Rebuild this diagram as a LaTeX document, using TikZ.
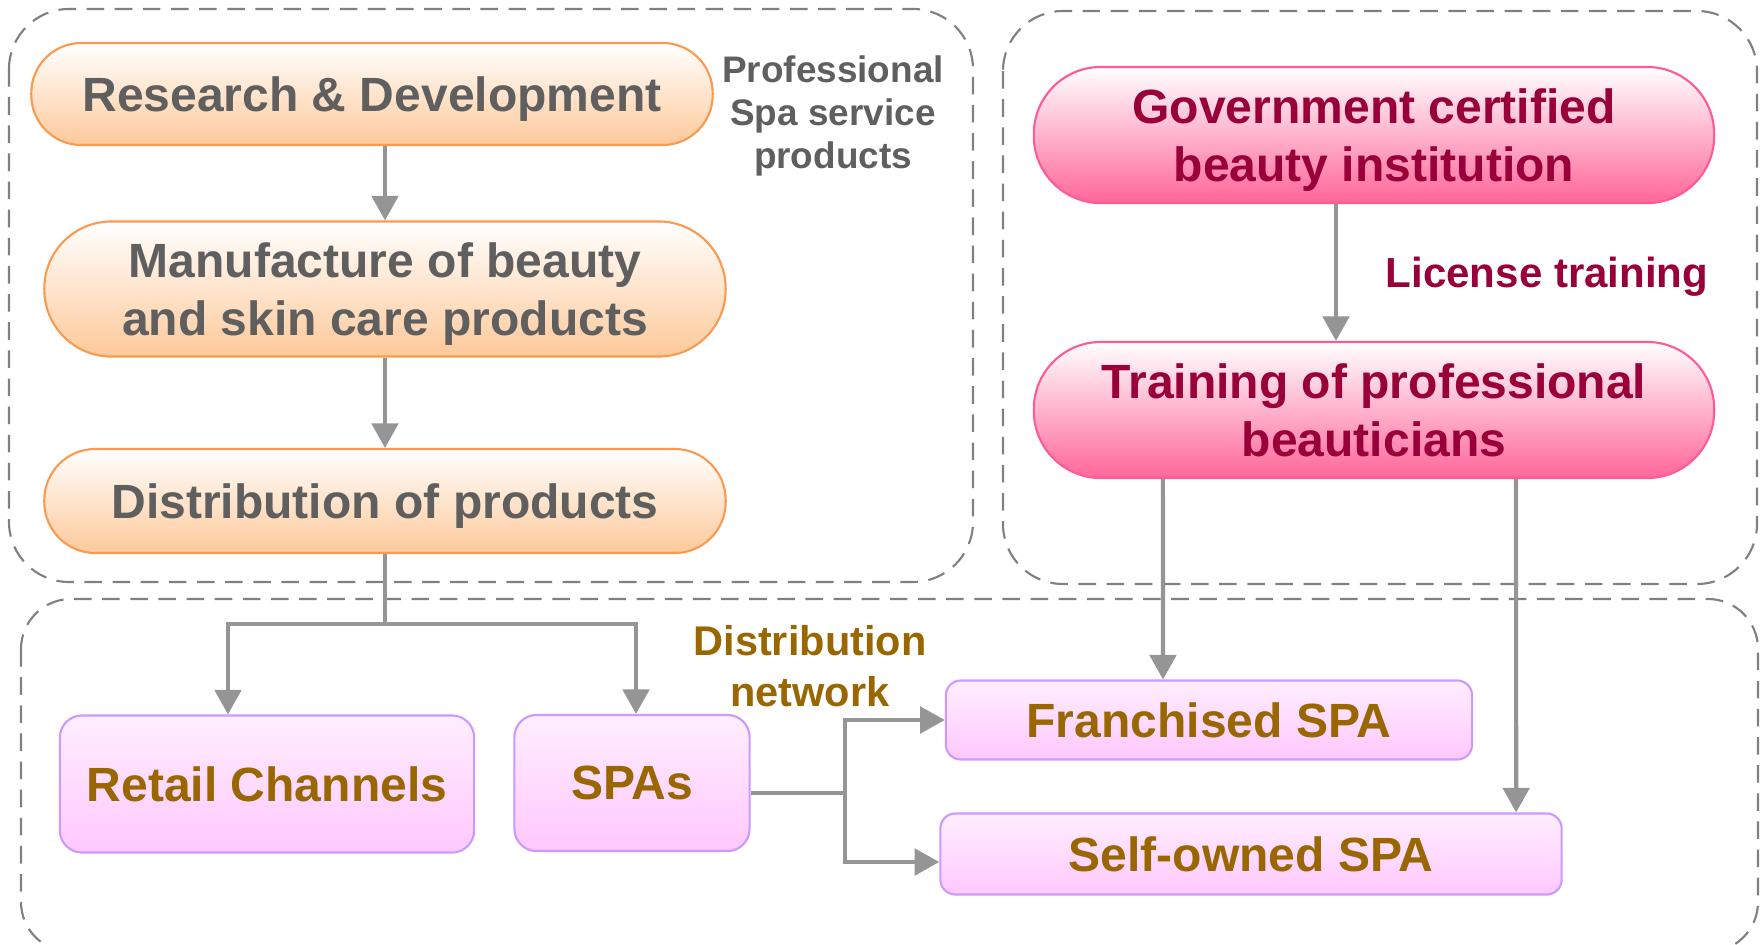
\documentclass[tikz,border=0pt]{standalone}
\usepackage{fontspec}
\setmainfont{Liberation Sans}
\usetikzlibrary{arrows.meta}
\definecolor{zonegray}{HTML}{808080}
\definecolor{linkgray}{HTML}{959595}
\definecolor{prodline}{HTML}{FA9A50}
\definecolor{prodfill}{HTML}{FDC99A}
\definecolor{prodtext}{HTML}{5F5F5F}
\definecolor{eduline}{HTML}{FF5C8D}
\definecolor{edufill}{HTML}{FF6699}
\definecolor{edutext}{HTML}{990039}
\definecolor{shopline}{HTML}{CC99FF}
\definecolor{shoptop}{HTML}{FFEEFF}
\definecolor{shopfill}{HTML}{FFC8FF}
\definecolor{shoptext}{HTML}{996600}
\tikzset{
  zone/.style={draw=zonegray, line width=0.6pt, dash pattern=on 5pt off 3pt, rounded corners=#1},
  base/.style={line width=0.6pt, inner sep=0pt, align=center, text depth=0pt, font=\fontsize{13.66pt}{16.4pt}\selectfont\bfseries},
  prod/.style={base, rounded corners=#1, draw=prodline, top color=white, bottom color=prodfill, text=prodtext},
  edu/.style={base, rounded corners=#1, draw=eduline, top color=white, bottom color=edufill, text=edutext},
  shop/.style={base, rounded corners=#1, draw=shopline, top color=shoptop, bottom color=shopfill, text=shoptext},
  shop/.default=0.22cm,
  link/.style={draw=linkgray, line width=1.2pt},
  arr/.style={link, -{Triangle[width=7.5pt,length=7pt]}},
}
\begin{document}
\begin{tikzpicture}[x=0.01cm,y=-0.01cm]
\useasboundingbox (0,0) rectangle (1762,945);
% dashed groups
\draw[zone=0.6cm] (9,9) rectangle (973,582);
\draw[zone=0.6cm] (1003,11) rectangle (1757,584);
\draw[zone=0.5cm] (21,599) rectangle (1758,952);
% products
\node[prod=0.5cm, minimum width=6.81cm, minimum height=1.02cm] (rd) at (372,94) {Research \& Development};
\node[prod=0.67cm, minimum width=6.81cm, minimum height=1.35cm] (manuf) at (385,289) {Manufacture of beauty\\and skin care products};
\node[prod=0.51cm, minimum width=6.81cm, minimum height=1.04cm] (dist) at (385,501) {Distribution of products};
\node[align=center, text=prodtext, font=\fontsize{10.5pt}{12.1pt}\selectfont\bfseries] (spa) at (833,116) {Professional\\Spa service\\products};
% training
\node[edu=0.67cm, minimum width=6.8cm, minimum height=1.36cm] (gov) at (1374,135) {Government certified\\beauty institution};
\node[edu=0.67cm, minimum width=6.8cm, minimum height=1.36cm] (train) at (1374,410) {Training of professional\\beauticians};
\node[text=edutext, font=\fontsize{11.95pt}{14pt}\selectfont\bfseries] (lic) at (1547,277) {License training};
% outlets
\node[shop, minimum width=4.14cm, minimum height=1.37cm] (retail) at (267,784) {Retail Channels};
\node[shop, minimum width=2.35cm, minimum height=1.36cm] (spas) at (632,783) {SPAs};
\node[shop=0.15cm, minimum width=5.26cm, minimum height=0.79cm] (fran) at (1209,720) {Franchised SPA};
\node[shop=0.15cm, minimum width=6.21cm, minimum height=0.81cm] (own) at (1251,854) {Self-owned SPA};
\node[align=center, text=shoptext, font=\fontsize{11.8pt}{14.5pt}\selectfont\bfseries] (net) at (810,666) {Distribution\\network};
% connectors
\draw[arr] (rd.south -| manuf.north) -- (manuf.north);
\draw[arr] (manuf) -- (dist);
\draw[link] (dist.south) -- ++(0,70) coordinate (fork);
\draw[arr] (fork) -| ([xshift=-0.39cm]retail.north);
\draw[arr] (fork) -| ([xshift=0.04cm]spas.north);
\draw[arr] ([xshift=-0.38cm]gov.south) -- ([xshift=-0.38cm]train.north);
\draw[arr] ([xshift=-2.11cm]train.south) -- ([xshift=-0.46cm]fran.north);
\draw[arr] ([xshift=1.42cm]train.south) -- ([xshift=2.65cm]own.north);
\draw[link] ([yshift=-0.1cm]spas.east) -- ++(94,0) coordinate (split);
\draw[arr] (split) |- (fran.west);
\draw[arr] (split) |- ([yshift=-0.08cm]own.west);
\end{tikzpicture}
\end{document}
